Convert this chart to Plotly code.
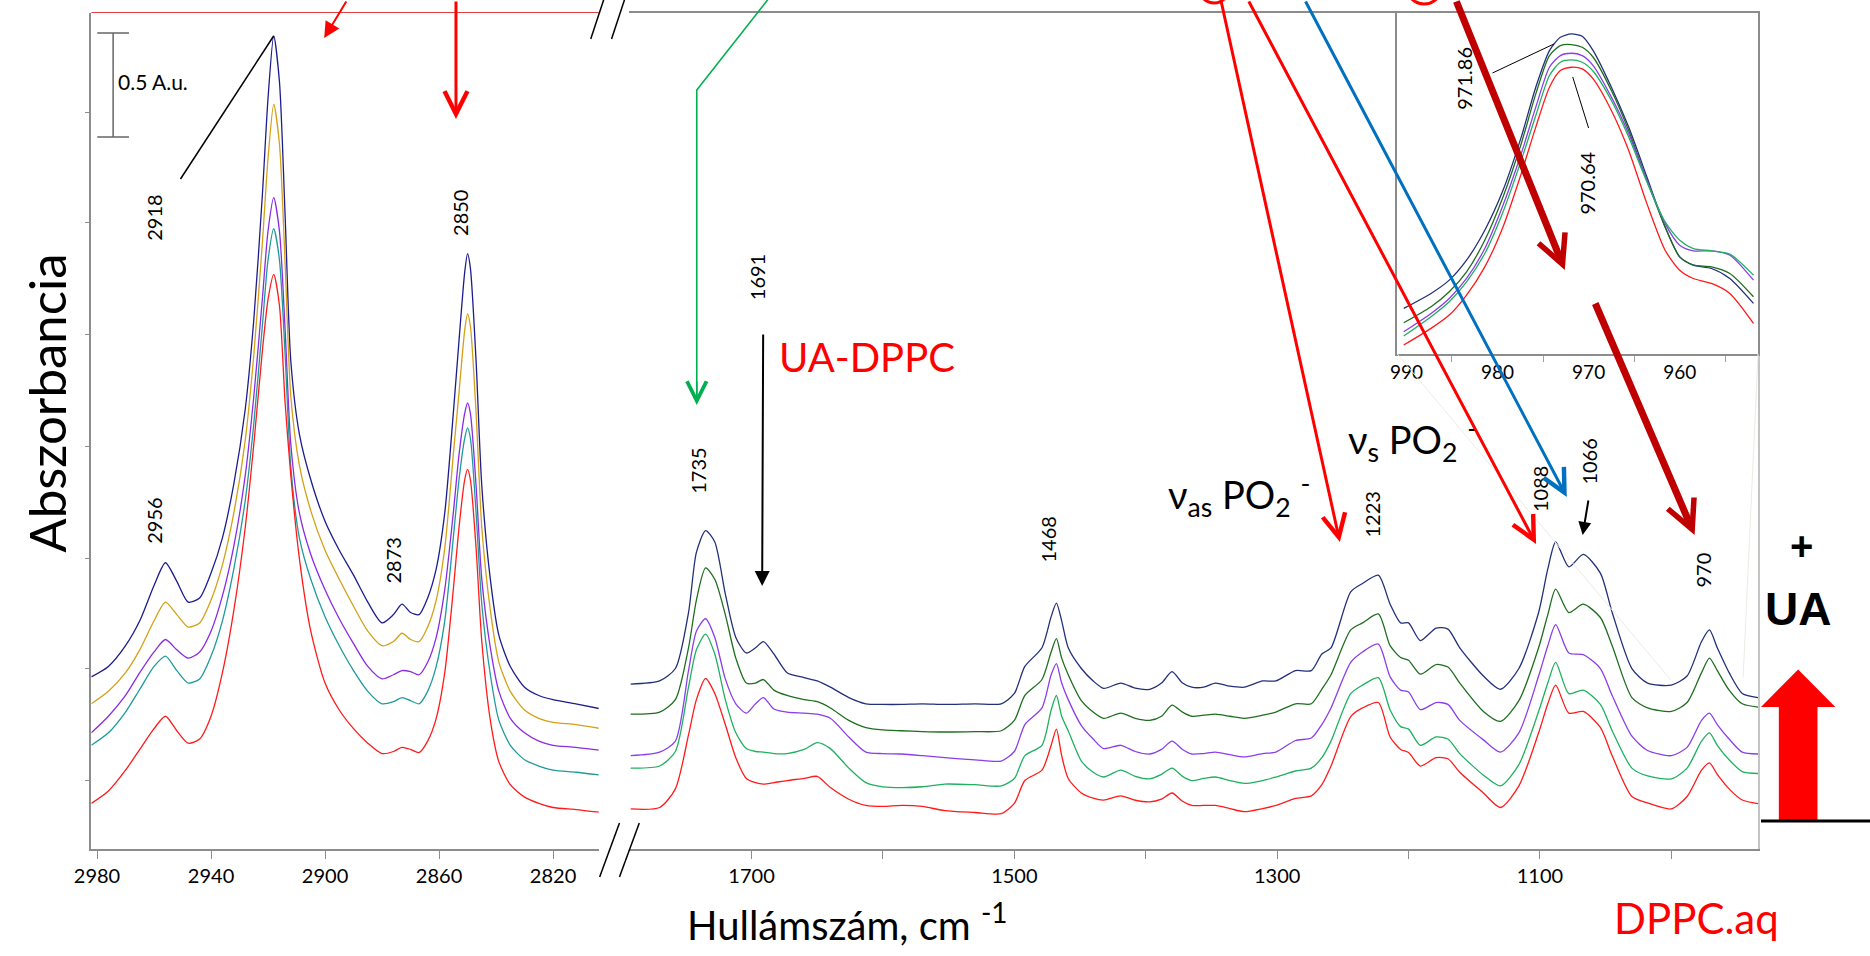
import plotly.graph_objects as go

W, H = 1870, 956

# ---------------- data (absorbance, arbitrary offset units) ----------------
# C-H stretching region
L_WN = [2982, 2976, 2970, 2965, 2960, 2956, 2952, 2948, 2944, 2940, 2936, 2932, 2928, 2925, 2922,
        2920, 2918, 2916, 2914, 2912, 2909, 2905, 2900, 2895, 2890, 2885, 2880, 2876, 2873, 2870,
        2867, 2864, 2861, 2858, 2855, 2853, 2851, 2850, 2849, 2847, 2845, 2842, 2839, 2835, 2830,
        2825, 2820, 2812, 2803]
L_NAVY = [0.83, 0.88, 0.98, 1.10, 1.27, 1.38, 1.29, 1.19, 1.21, 1.33, 1.50, 1.76, 2.12, 2.55, 3.15,
          3.62, 3.92, 3.70, 3.05, 2.35, 2.00, 1.78, 1.58, 1.44, 1.32, 1.19, 1.09, 1.13, 1.18, 1.14,
          1.13, 1.21, 1.35, 1.62, 2.10, 2.45, 2.78, 2.87, 2.80, 2.35, 1.75, 1.30, 1.03, 0.88, 0.78,
          0.74, 0.72, 0.70, 0.675]
L_GOLD = [0.70, 0.76, 0.85, 0.96, 1.10, 1.19, 1.13, 1.07, 1.09, 1.20, 1.37, 1.62, 1.97, 2.38, 2.92,
          3.33, 3.59, 3.40, 2.82, 2.18, 1.85, 1.63, 1.44, 1.30, 1.17, 1.05, 0.98, 1.00, 1.04, 1.01,
          1.00, 1.07, 1.20, 1.45, 1.90, 2.20, 2.50, 2.58, 2.52, 2.10, 1.55, 1.15, 0.90, 0.76, 0.67,
          0.63, 0.61, 0.60, 0.58]
L_PURPLE = [0.56, 0.64, 0.74, 0.85, 0.95, 1.01, 0.96, 0.92, 0.95, 1.05, 1.22, 1.46, 1.80, 2.18, 2.65,
            2.98, 3.14, 2.98, 2.50, 1.95, 1.62, 1.42, 1.25, 1.11, 0.99, 0.88, 0.82, 0.84, 0.86, 0.855,
            0.84, 0.90, 1.02, 1.25, 1.62, 1.90, 2.10, 2.15, 2.10, 1.75, 1.30, 0.97, 0.76, 0.63, 0.56,
            0.52, 0.50, 0.49, 0.475]
L_TEAL = [0.50, 0.56, 0.66, 0.77, 0.88, 0.93, 0.86, 0.80, 0.82, 0.93, 1.10, 1.35, 1.68, 2.05, 2.52,
          2.84, 2.99, 2.84, 2.38, 1.84, 1.50, 1.30, 1.12, 0.98, 0.86, 0.76, 0.70, 0.71, 0.73, 0.715,
          0.70, 0.76, 0.88, 1.10, 1.50, 1.78, 1.98, 2.03, 1.98, 1.62, 1.18, 0.84, 0.62, 0.50, 0.43,
          0.40, 0.38, 0.37, 0.356]
L_RED = [0.22, 0.28, 0.38, 0.48, 0.58, 0.64, 0.57, 0.51, 0.53, 0.64, 0.85, 1.15, 1.55, 1.95, 2.40,
         2.65, 2.77, 2.62, 2.15, 1.80, 1.40, 1.05, 0.80, 0.67, 0.58, 0.51, 0.46, 0.47, 0.49, 0.48,
         0.465, 0.52, 0.63, 0.85, 1.25, 1.55, 1.78, 1.83, 1.78, 1.45, 1.00, 0.62, 0.42, 0.31, 0.25,
         0.22, 0.20, 0.19, 0.176]

# fingerprint region
R_WN = [1792, 1770, 1758, 1748, 1742, 1735, 1728, 1720, 1712, 1704, 1697, 1691, 1683, 1673, 1660,
        1650, 1640, 1626, 1613, 1600, 1586, 1570, 1553, 1530, 1510, 1500, 1492, 1479, 1472, 1468,
        1464, 1459, 1449, 1440, 1432, 1419, 1408, 1397, 1388, 1380, 1372, 1365, 1356, 1347, 1336,
        1325, 1311, 1301, 1286, 1274, 1266, 1259, 1244, 1235, 1223, 1214, 1206, 1200, 1191, 1179,
        1170, 1161, 1143, 1130, 1116, 1101, 1094, 1088, 1078, 1067, 1054, 1045, 1030, 1018, 1000,
        988, 977, 971, 965, 956, 946, 934]
R_NAVY = [0.795, 0.81, 0.87, 1.14, 1.43, 1.535, 1.48, 1.23, 1.02, 0.945, 0.97, 1.00, 0.94, 0.85, 0.826,
          0.81, 0.78, 0.73, 0.70, 0.697, 0.697, 0.70, 0.697, 0.70, 0.70, 0.75, 0.88, 0.97, 1.12, 1.185,
          1.10, 0.97, 0.87, 0.81, 0.774, 0.80, 0.775, 0.77, 0.80, 0.855, 0.80, 0.78, 0.78, 0.80, 0.785,
          0.78, 0.81, 0.81, 0.86, 0.86, 0.94, 0.97, 1.24, 1.28, 1.32, 1.18, 1.09, 1.09, 1.005, 1.065,
          1.06, 0.97, 0.834, 0.77, 0.87, 1.14, 1.35, 1.48, 1.36, 1.42, 1.33, 1.14, 0.87, 0.80, 0.79,
          0.834, 1.00, 1.056, 0.97, 0.85, 0.75, 0.73]
R_DKGREEN = [0.65, 0.66, 0.72, 0.97, 1.20, 1.355, 1.30, 1.13, 0.92, 0.80, 0.80, 0.817, 0.766, 0.74, 0.72,
             0.71, 0.68, 0.62, 0.585, 0.574, 0.57, 0.566, 0.564, 0.566, 0.57, 0.62, 0.74, 0.817, 0.95, 1.014,
             0.92, 0.84, 0.715, 0.66, 0.63, 0.655, 0.63, 0.62, 0.64, 0.694, 0.66, 0.64, 0.645, 0.65, 0.64,
             0.63, 0.645, 0.66, 0.70, 0.70, 0.77, 0.84, 1.056, 1.09, 1.133, 0.98, 0.923, 0.91, 0.843, 0.889,
             0.877, 0.80, 0.663, 0.615, 0.715, 0.97, 1.13, 1.253, 1.14, 1.18, 1.116, 0.98, 0.73, 0.68, 0.663,
             0.706, 0.85, 0.92, 0.86, 0.766, 0.70, 0.684]
R_PURPLE = [0.45, 0.467, 0.52, 0.86, 1.05, 1.11, 1.02, 0.82, 0.70, 0.655, 0.70, 0.73, 0.675, 0.66, 0.655,
            0.65, 0.63, 0.54, 0.467, 0.46, 0.458, 0.45, 0.44, 0.43, 0.424, 0.47, 0.60, 0.68, 0.84, 0.894,
            0.80, 0.72, 0.595, 0.53, 0.484, 0.50, 0.47, 0.458, 0.48, 0.52, 0.48, 0.458, 0.46, 0.467, 0.455,
            0.444, 0.46, 0.467, 0.523, 0.535, 0.60, 0.68, 0.90, 0.95, 0.988, 0.83, 0.766, 0.757, 0.672, 0.706,
            0.697, 0.62, 0.526, 0.467, 0.56, 0.834, 0.98, 1.082, 0.945, 0.937, 0.87, 0.74, 0.544, 0.475, 0.45,
            0.49, 0.62, 0.655, 0.60, 0.53, 0.467, 0.458]
R_GREEN = [0.39, 0.40, 0.47, 0.78, 0.96, 1.036, 0.94, 0.72, 0.56, 0.484, 0.47, 0.467, 0.46, 0.46, 0.48,
           0.513, 0.484, 0.39, 0.32, 0.30, 0.296, 0.30, 0.313, 0.31, 0.304, 0.34, 0.45, 0.50, 0.67, 0.74,
           0.64, 0.57, 0.424, 0.37, 0.347, 0.38, 0.35, 0.338, 0.36, 0.39, 0.35, 0.33, 0.34, 0.347, 0.33,
           0.316, 0.33, 0.347, 0.376, 0.39, 0.44, 0.52, 0.749, 0.79, 0.826, 0.67, 0.59, 0.578, 0.50, 0.54,
           0.53, 0.46, 0.356, 0.304, 0.407, 0.663, 0.80, 0.90, 0.749, 0.766, 0.697, 0.57, 0.39, 0.352, 0.338,
           0.39, 0.52, 0.56, 0.50, 0.43, 0.373, 0.364]
R_RED = [0.193, 0.20, 0.29, 0.55, 0.72, 0.822, 0.75, 0.60, 0.44, 0.34, 0.32, 0.313, 0.32, 0.33, 0.34,
         0.35, 0.296, 0.24, 0.21, 0.205, 0.21, 0.205, 0.185, 0.176, 0.17, 0.22, 0.33, 0.38, 0.50, 0.578,
         0.45, 0.34, 0.27, 0.245, 0.236, 0.256, 0.235, 0.227, 0.24, 0.27, 0.23, 0.21, 0.21, 0.21, 0.195,
         0.18, 0.195, 0.21, 0.244, 0.256, 0.31, 0.40, 0.638, 0.68, 0.706, 0.54, 0.48, 0.465, 0.40, 0.44,
         0.435, 0.37, 0.27, 0.20, 0.304, 0.56, 0.70, 0.79, 0.655, 0.663, 0.586, 0.45, 0.253, 0.222, 0.193,
         0.253, 0.38, 0.415, 0.36, 0.29, 0.236, 0.219]

# inset: 970 cm-1 band
I_WN = [990.3, 987.3, 985.3, 983.4, 981.4, 979.4, 977.4, 975.8, 974.3, 973.1, 971.9, 970.7, 969.5,
        967.5, 965.6, 963.6, 961.6, 960.0, 958.5, 956.5, 954.5, 951.9]
I_NAVY = [0.137, 0.182, 0.222, 0.282, 0.372, 0.492, 0.652, 0.802, 0.912, 0.952, 0.962, 0.955, 0.912,
          0.802, 0.682, 0.532, 0.382, 0.292, 0.267, 0.257, 0.227, 0.152]
I_DKGREEN = [0.094, 0.142, 0.187, 0.247, 0.342, 0.472, 0.632, 0.782, 0.897, 0.927, 0.930, 0.922, 0.892,
             0.792, 0.672, 0.522, 0.382, 0.292, 0.267, 0.262, 0.242, 0.172]
I_PURPLE = [0.067, 0.122, 0.167, 0.227, 0.317, 0.447, 0.602, 0.742, 0.862, 0.897, 0.904, 0.897, 0.867,
            0.772, 0.662, 0.522, 0.392, 0.327, 0.310, 0.310, 0.297, 0.222]
I_GREEN = [0.054, 0.112, 0.157, 0.217, 0.302, 0.427, 0.582, 0.717, 0.837, 0.877, 0.884, 0.877, 0.850,
           0.762, 0.652, 0.517, 0.397, 0.342, 0.317, 0.310, 0.300, 0.237]
I_RED = [0.027, 0.077, 0.117, 0.177, 0.262, 0.382, 0.542, 0.682, 0.802, 0.852, 0.862, 0.857, 0.827,
         0.732, 0.612, 0.452, 0.312, 0.252, 0.227, 0.212, 0.182, 0.092]

L_TICKS = [2980, 2940, 2900, 2860, 2820]
R_TICKS = [1700, 1600, 1500, 1400, 1300, 1200, 1100, 1000]
R_TICKTEXT = ["1700", "", "1500", "", "1300", "", "1100", ""]
I_TICKS = [990, 980, 970, 960]
I_MINOR = [985, 975, 965, 955]
Y_TICKS = [0.33, 0.87, 1.40, 1.94, 2.48, 3.02, 3.55]

LEFT_COLORS = ["#1c1c8f", "#d4a017", "#8a2be2", "#1f9a9a", "#ff1a1a"]
RIGHT_COLORS = ["#22307a", "#1f6e1f", "#8a3ee8", "#1fb060", "#ff1a1a"]

FONT = "Lato"


def X(v):
    return v / W


def Y(v):
    return 1 - v / H


fig = go.Figure()


def add_series(xs, ys, color, xa, ya):
    fig.add_trace(go.Scatter(x=xs, y=ys, mode="lines", xaxis=xa, yaxis=ya,
                             line=dict(color=color, width=1.3, shape="spline", smoothing=0.7),
                             showlegend=False, hoverinfo="skip"))


for ys, c in zip([L_NAVY, L_GOLD, L_PURPLE, L_TEAL, L_RED], LEFT_COLORS):
    add_series(L_WN, ys, c, "x", "y")
for ys, c in zip([R_NAVY, R_DKGREEN, R_PURPLE, R_GREEN, R_RED], RIGHT_COLORS):
    add_series(R_WN, ys, c, "x2", "y2")
for ys, c in zip([I_NAVY, I_DKGREEN, I_PURPLE, I_GREEN, I_RED], RIGHT_COLORS):
    add_series(I_WN, ys, c, "x3", "y3")

GRAY = "#8c8c8c"
ydom = [Y(849), Y(13)]
tickfont = dict(family=FONT, size=20, color="black")

fig.update_layout(
    width=W, height=H, margin=dict(l=0, r=0, t=0, b=0),
    paper_bgcolor="white", plot_bgcolor="white",
    xaxis=dict(domain=[X(75), X(587)], range=[2982, 2804], anchor="y",
               tickvals=L_TICKS, ticks="outside", ticklen=8, tickcolor=GRAY,
               showline=True, linecolor=GRAY, linewidth=1.5, showgrid=False, zeroline=False,
               tickfont=tickfont),
    yaxis=dict(domain=ydom, range=[0, 4.03], anchor="x", tickvals=Y_TICKS, ticks="outside",
               ticklen=5, tickcolor=GRAY, showticklabels=False, showline=True, linecolor=GRAY,
               linewidth=1.5, showgrid=False, zeroline=False),
    xaxis2=dict(domain=[X(618), X(1757)], range=[1793, 934], anchor="y2",
                tickvals=R_TICKS, ticktext=R_TICKTEXT, ticks="outside", ticklen=8, tickcolor=GRAY,
                showline=True, mirror=True, linecolor=GRAY, linewidth=1.5, showgrid=False,
                zeroline=False, tickfont=tickfont),
    yaxis2=dict(domain=ydom, range=[0, 4.03], anchor="x2", side="right", showline=True,
                linecolor="#c4c4c4", linewidth=2, ticks="", showticklabels=False,
                showgrid=False, zeroline=False),
    xaxis3=dict(domain=[X(1393), X(1757)], range=[991, 951.4], anchor="y3",
                tickvals=I_TICKS, ticks="", showline=True, mirror=True, linecolor=GRAY,
                linewidth=1.5, showgrid=False, zeroline=False,
                tickfont=dict(family=FONT, size=19, color="black"),
                minor=dict(tickvals=I_MINOR, ticks="outside", ticklen=6, tickcolor="#a0a0a0")),
    yaxis3=dict(domain=[Y(354), Y(13)], range=[0, 1.025], anchor="x3", showline=True,
                mirror=True, linecolor=GRAY, linewidth=1.5, ticks="", showticklabels=False,
                showgrid=False, zeroline=False),
)

shapes = []


def line(x0, y0, x1, y1, color, width):
    shapes.append(dict(type="line", xref="paper", yref="paper", x0=X(x0), y0=Y(y0), x1=X(x1),
                       y1=Y(y1), line=dict(color=color, width=width), layer="above"))


# red top border of the left panel
line(75, 12.5, 587, 12.5, "#e04040", 1.2)
# axis breaks
line(579, 39, 593, -3, "black", 1.5)
line(600, 39, 614, -3, "black", 1.5)
line(588, 877, 608, 823, "black", 1.5)
line(608, 877, 628, 823, "black", 1.5)
# scale bar
line(97, 33, 97, 137, "#666666", 1.5)
line(81, 33, 113, 33, "#666666", 1.5)
line(81, 137, 113, 137, "#666666", 1.5)
# leader lines
line(259, 36, 165, 179, "black", 1.5)
line(1489, 73, 1551, 44, "black", 1)
line(1570, 77, 1586, 128, "black", 1)
# faint zoom connectors
line(1393, 354, 1669, 680, "#ecece4", 1)
line(1757, 354, 1742, 677, "#ecece4", 1)
# green bent pointer
shapes.append(dict(type="path", xref="paper", yref="paper",
                   path=f"M{X(759)},{Y(-2)} L{X(686)},{Y(90)} L{X(686)},{Y(395)}",
                   line=dict(color="#00b050", width=1.6), layer="above"))
# red circles partly visible at the top
shapes.append(dict(type="circle", xref="paper", yref="paper", x0=X(1193), x1=X(1223),
                   y0=Y(3), y1=Y(-27), line=dict(color="#ff0000", width=3)))
shapes.append(dict(type="circle", xref="paper", yref="paper", x0=X(1402), x1=X(1438),
                   y0=Y(4), y1=Y(-32), line=dict(color="#ff0000", width=3)))
# big red block arrow + baseline
shapes.append(dict(type="path", xref="paper", yref="paper",
                   path=(f"M{X(1778)},{Y(821)} L{X(1778)},{Y(707)} L{X(1760)},{Y(707)} "
                         f"L{X(1797.5)},{Y(669.5)} L{X(1835)},{Y(707)} L{X(1817)},{Y(707)} "
                         f"L{X(1817)},{Y(821)} Z"),
                   fillcolor="#ff0000", line=dict(color="#ff0000", width=0), layer="above"))
line(1760, 821, 1870, 821, "black", 3)

annots = []


def text(x, y, s, size, color="black", angle=0, family=FONT, xanchor="center"):
    annots.append(dict(xref="paper", yref="paper", x=X(x), y=Y(y), text=s, showarrow=False,
                       textangle=angle, font=dict(family=family, size=size, color=color),
                       xanchor=xanchor, yanchor="middle"))


def arrow(tipx, tipy, tailx, taily, color, width, head, size):
    annots.append(dict(xref="paper", yref="paper", x=X(tipx), y=Y(tipy),
                       ax=tailx - tipx, ay=taily - tipy, axref="pixel", ayref="pixel",
                       text="", showarrow=True, arrowhead=head, arrowsize=size,
                       arrowwidth=width, arrowcolor=color, standoff=0))


# peak labels
for (x, y, s) in [(138, 218, "2918"), (447, 213, "2850"), (138, 521, "2956"), (379, 561, "2873"),
                  (687, 471, "1735"), (747, 277, "1691"), (1040, 540, "1468"), (1367, 515, "1223"),
                  (1537, 489, "1088"), (1586, 462, "1066"), (1701, 570, "970"),
                  (1460, 78, "971.86"), (1584, 183, "970.64")]:
    text(x, y, s, 20, angle=-90)

text(100, 82, "0.5 A.u.", 21, xanchor="left")
text(767, 357, "UA-DPPC", 40, color="#ff0000", xanchor="left")
text(1160, 495, "ν<sub>as</sub> PO<sub>2</sub> <sup>-</sup>", 38, xanchor="left")
text(1341, 440, "ν<sub>s</sub> PO<sub>2</sub> <sup>-</sup>", 38, xanchor="left")
text(1801, 546, "<b>+</b>", 40, family="Liberation Sans")
text(1797, 609, "<b>UA</b>", 46, family="Liberation Sans")
text(1695, 918, "DPPC.aq", 42, color="#ff0000")
text(838, 922, "Hullámszám, cm <sup>-1</sup>", 40)
text(30, 403, "Abszorbancia", 51, angle=-90)

# arrows
arrow(310, 38, 333, -6, "#ff0000", 2, 2, 1.6)
arrow(443, 119, 443, -6, "#ff0000", 3, 5, 1.5)
arrow(686, 405, 686, 380, "#00b050", 1.6, 5, 2.4)
arrow(752, 586, 753, 333, "black", 2, 2, 1.5)
arrow(1335, 542, 1216, -4, "#ff0000", 3, 5, 1.5)
arrow(1533, 544, 1245, -4, "#ff0000", 3, 5, 1.5)
arrow(1564, 497, 1302, -4, "#0070c0", 3, 5, 1.5)
arrow(1562, 270, 1453, -4, "#c00000", 7, 5, 0.8)
arrow(1693, 535, 1593, 302, "#c00000", 7, 5, 0.8)
arrow(1580, 535, 1586, 499, "black", 2, 2, 1.3)

fig.update_layout(shapes=shapes, annotations=annots)
fig.write_html("out.html")
